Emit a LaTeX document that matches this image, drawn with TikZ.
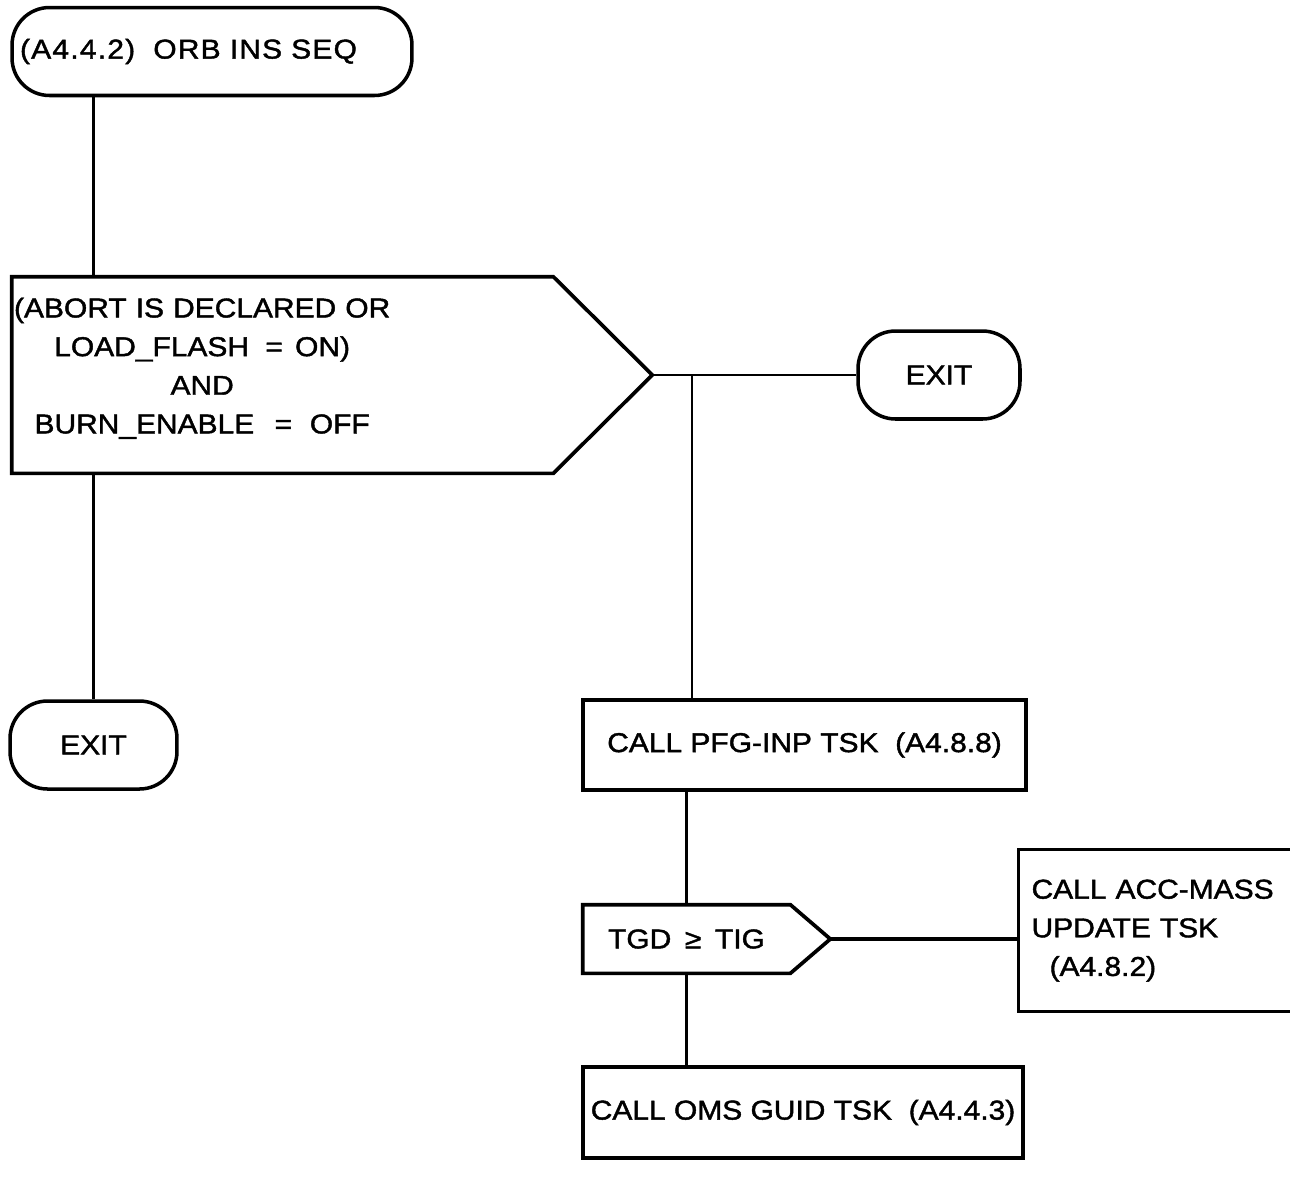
\documentclass[tikz,border=0pt]{standalone}
\usepackage{fontspec}
\setmainfont{Liberation Sans}[FakeStretch=1.1, FakeBold=1.5]
\usetikzlibrary{positioning, calc}

\begin{document}
\begin{tikzpicture}[
    x=0.02cm, y=-0.02cm,
    font=\fontsize{15.5pt}{22pt}\selectfont,
    terminal/.style={draw, line width=2pt, rounded corners=0.75cm, minimum height=1.76cm, align=center},
    process/.style={draw, line width=1.8pt, minimum height=1.8cm, align=center},
    condbox/.style={inner xsep=0.04cm, inner ysep=0pt, align=left},
    outline/.style={line width=2.1pt, line join=miter},
    link/.style={line width=1.4pt}
]
\path[use as bounding box, fill=white] (0,0) rectangle (1290,1188);

% Nodes
\node[terminal, minimum width=8cm, inner xsep=0.16cm, text width=7.68cm, align=left,
      font=\fontsize{15.5pt}{22pt}\selectfont\addfontfeature{LetterSpace=4.5}] (orbins) at (212,51.5) {(A4.4.2)\ \ ORB INS SEQ};
\node[condbox, minimum width=10.82cm, minimum height=3.92cm, text width=10.74cm] (abort) at (282.5,375)
    {\raisebox{0.02cm}[0pt][0pt]{\begin{tabular}{@{}c@{}}(ABORT IS DECLARED OR\\
     LOAD\_FLASH\hspace{0.6em}=\hspace{0.45em}ON)\\
     AND\\
     BURN\_ENABLE\hspace{0.75em}=\hspace{0.65em}OFF\end{tabular}}};
\coordinate (abort tip) at ($(abort.east)+(99,0)$);
\node[terminal, minimum width=3.24cm] (exitR) at (939,375) {EXIT};
\node[terminal, minimum width=3.34cm] (exitL) at (93.5,745) {EXIT};
\node[process, minimum width=8.86cm] (pfg) at (804.5,745) {CALL PFG-INP TSK\ \ (A4.8.8)};
\node[condbox, minimum width=4.14cm, minimum height=1.36cm] (tgd) at (686.5,939) {TGD\enspace ≥\enspace TIG};
\coordinate (tgd tip) at ($(tgd.east)+(40,0)$);
\node[process, minimum width=5.6cm, minimum height=3.24cm, inner xsep=0.26cm, text width=5.08cm, align=left, anchor=north west] (acc) at (1017,848)
    {CALL ACC-MASS\\ UPDATE TSK\\ \hspace*{0.36cm}(A4.8.2)};
\node[process, minimum width=8.8cm, minimum height=1.82cm] (oms) at (803,1112.5) {CALL OMS GUID TSK\ \ (A4.4.3)};

% Decision outlines
\draw[outline] (abort.north west) -- (abort.north east) -- (abort tip) -- (abort.south east) -- (abort.south west) -- cycle;
\draw[outline] (tgd.north west) -- (tgd.north east) -- (tgd tip) -- (tgd.south east) -- (tgd.south west) -- cycle;

% Edges
\coordinate (fork) at (692,375);
\draw[link] (exitL |- orbins.south) -- (exitL |- abort.north);
\draw[link] (exitL |- abort.south) -- (exitL.north);
\draw[link] (abort tip) -- (exitR);
\draw[link] (fork) -- (fork |- pfg.north);
\draw[link] (pfg.south -| tgd) -- (tgd.north);
\draw[link] (tgd.south) -- (tgd.south |- oms.north);
\draw[link, line width=1.8pt] (tgd tip) -- (tgd tip -| acc.west);

\end{tikzpicture}
\end{document}
